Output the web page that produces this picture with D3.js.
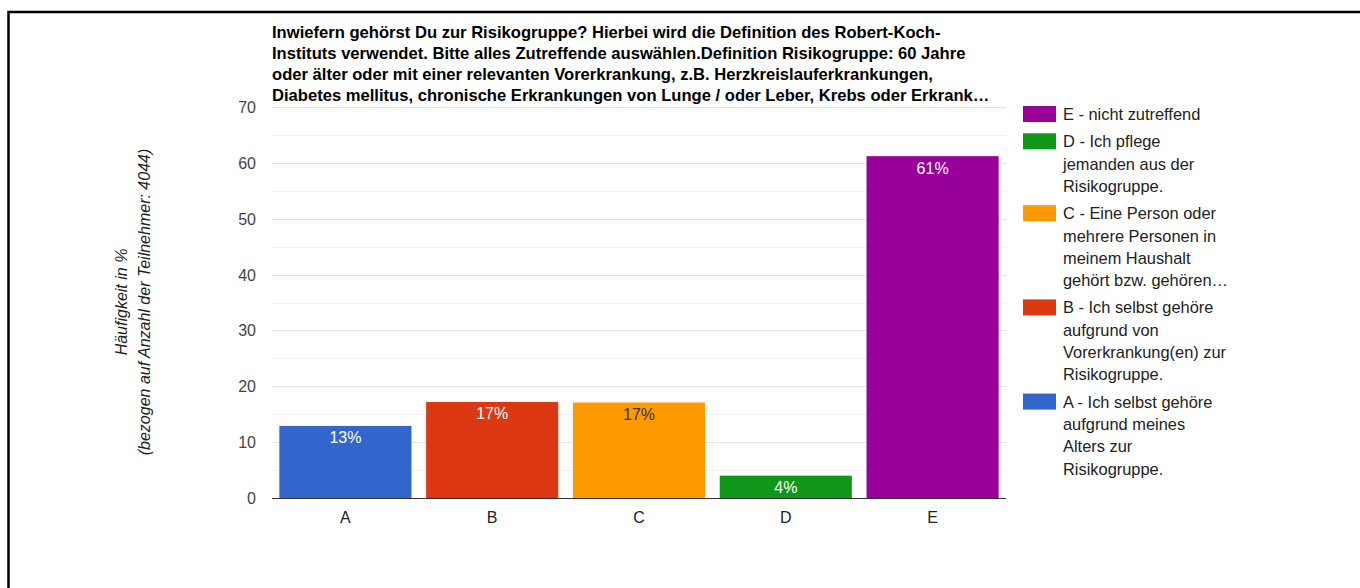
<!DOCTYPE html>
<html>
<head>
<meta charset="utf-8">
<script src="https://cdn.jsdelivr.net/npm/d3@7"></script>
<style>
  body { margin: 0; background: #fff; }
  svg { display: block; font-family: Arial, "Liberation Sans", sans-serif; }
</style>
</head>
<body>
<svg id="chart" width="1360" height="588"></svg>
<script>
// data
var categories = ['A', 'B', 'C', 'D', 'E'];
var values = [12.9, 17.2, 17.1, 4.0, 61.2];
var valueLabels = ['13%', '17%', '17%', '4%', '61%'];
var barColors = ['#3366cc', '#dc3912', '#ff9900', '#109618', '#990099'];
var labelColors = ['#ffffff', '#ffffff', '#333333', '#ffffff', '#ffffff'];
var yTicks = [0, 10, 20, 30, 40, 50, 60, 70];
var yMinorTicks = [5, 15, 25, 35, 45, 55, 65];

var titleLines = [
    'Inwiefern gehörst Du zur Risikogruppe? Hierbei wird die Definition des Robert-Koch-',
    'Instituts verwendet. Bitte alles Zutreffende auswählen.Definition Risikogruppe: 60 Jahre',
    'oder älter oder mit einer relevanten Vorerkrankung, z.B. Herzkreislauferkrankungen,',
    'Diabetes mellitus, chronische Erkrankungen von Lunge / oder Leber, Krebs oder Erkrank…'
];
var yTitleLines = ['Häufigkeit in %', '(bezogen auf Anzahl der Teilnehmer: 4044)'];

// legend is listed top to bottom: E, D, C, B, A
var legendKeys = ['E', 'D', 'C', 'B', 'A'];
var legendTexts = [
    ['E - nicht zutreffend'],
    ['D - Ich pflege', 'jemanden aus der', 'Risikogruppe.'],
    ['C - Eine Person oder', 'mehrere Personen in', 'meinem Haushalt', 'gehört bzw. gehören…'],
    ['B - Ich selbst gehöre', 'aufgrund von', 'Vorerkrankung(en) zur', 'Risikogruppe.'],
    ['A - Ich selbst gehöre', 'aufgrund meines', 'Alters zur', 'Risikogruppe.']
];

var svg = d3.select('#chart');

// frame (only top and left edges show)
svg.append('path')
    .attr('d', 'M8.5,588 L8.5,12 L1360,12')
    .attr('fill', 'none')
    .attr('stroke', '#000')
    .attr('stroke-width', 2.5);

var x = d3.scaleBand()
    .domain(categories)
    .range([272, 1006])
    .paddingInner(0.1)
    .paddingOuter(0.05);

var y = d3.scaleLinear()
    .domain([0, 70])
    .range([498, 107]);

// gridlines
svg.append('g').selectAll('line.minor')
    .data(yMinorTicks).enter().append('line')
    .attr('x1', 272).attr('x2', 1006)
    .attr('y1', function(d) { return Math.round(y(d)) + 0.5; })
    .attr('y2', function(d) { return Math.round(y(d)) + 0.5; })
    .attr('stroke', '#f1f1f1');

svg.append('g').selectAll('line.major')
    .data(yTicks.slice(1)).enter().append('line')
    .attr('x1', 272).attr('x2', 1006)
    .attr('y1', function(d) { return Math.round(y(d)) + 0.5; })
    .attr('y2', function(d) { return Math.round(y(d)) + 0.5; })
    .attr('stroke', '#e3e3e3');

// y tick labels
svg.append('g').selectAll('text')
    .data(yTicks).enter().append('text')
    .attr('x', 256)
    .attr('y', function(d) { return y(d) + 6; })
    .attr('text-anchor', 'end')
    .attr('font-size', 16)
    .attr('fill', '#444')
    .text(function(d) { return d; });

// bars
var bars = svg.append('g').selectAll('g')
    .data(categories).enter().append('g');

bars.append('rect')
    .attr('x', function(d) { return x(d); })
    .attr('width', x.bandwidth())
    .attr('y', function(d, i) { return y(values[i]); })
    .attr('height', function(d, i) { return y(0) - y(values[i]); })
    .attr('fill', function(d, i) { return barColors[i]; });

bars.append('text')
    .attr('x', function(d) { return x(d) + x.bandwidth() / 2; })
    .attr('y', function(d, i) { return y(values[i]) + 17.5; })
    .attr('text-anchor', 'middle')
    .attr('font-size', 16)
    .attr('fill', function(d, i) { return labelColors[i]; })
    .text(function(d, i) { return valueLabels[i]; });

// baseline
svg.append('line')
    .attr('x1', 272).attr('x2', 1006)
    .attr('y1', y(0) + 0.5).attr('y2', y(0) + 0.5)
    .attr('stroke', '#333');

// x labels
svg.append('g').selectAll('text')
    .data(categories).enter().append('text')
    .attr('x', function(d) { return x(d) + x.bandwidth() / 2; })
    .attr('y', 523)
    .attr('text-anchor', 'middle')
    .attr('font-size', 16)
    .attr('fill', '#222')
    .text(function(d) { return d; });

// title
svg.append('g').selectAll('text')
    .data(titleLines).enter().append('text')
    .attr('x', 272)
    .attr('y', function(d, i) { return 38 + i * 21; })
    .attr('font-size', 16.6)
    .attr('font-weight', 'bold')
    .attr('fill', '#000')
    .text(function(d) { return d; });

// y axis title
svg.append('g')
    .attr('transform', 'translate(133,302) rotate(-90)')
    .selectAll('text')
    .data(yTitleLines).enter().append('text')
    .attr('x', 0)
    .attr('y', function(d, i) { return -6 + i * 22.5; })
    .attr('text-anchor', 'middle')
    .attr('font-size', 16)
    .attr('font-style', 'italic')
    .attr('fill', '#222')
    .text(function(d) { return d; });

// legend
var legend = svg.append('g');
var lineH = 22.3;
var ly = 120;
legendKeys.forEach(function(k, i) {
    var ci = categories.indexOf(k);
    legend.append('rect')
        .attr('x', 1023).attr('y', ly - 14)
        .attr('width', 33).attr('height', 16)
        .attr('fill', barColors[ci]);
    legend.selectAll(null)
        .data(legendTexts[i]).enter().append('text')
        .attr('x', 1063)
        .attr('y', function(d, j) { return ly + j * lineH; })
        .attr('font-size', 16.4)
        .attr('fill', '#222')
        .text(function(d) { return d; });
    ly += legendTexts[i].length * lineH + 5;
});
</script>
</body>
</html>
